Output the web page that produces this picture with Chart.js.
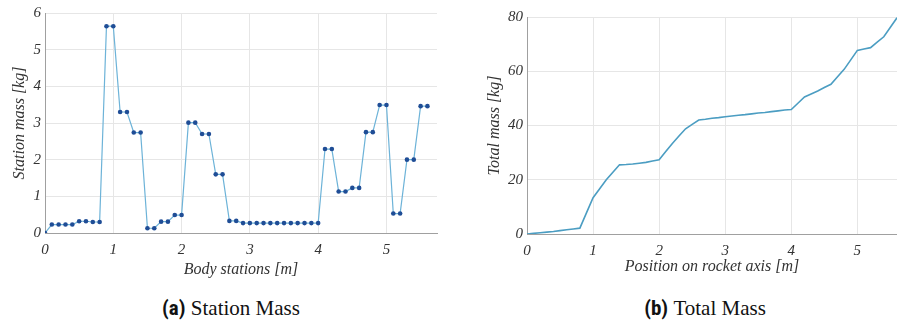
<!DOCTYPE html>
<html>
<head>
<meta charset="utf-8">
<script src="https://cdn.jsdelivr.net/npm/chart.js@4.4.1/dist/chart.umd.min.js"></script>
<style>
  body { margin: 0; background: #ffffff; width: 897px; height: 331px; overflow: hidden; position: relative; }
  canvas { position: absolute; top: 0; }
  #massChart { left: 0; }
  #totalChart { left: 447px; }
  .caption { position: absolute; top: 296px; font-size: 21px; color: #111; white-space: nowrap; transform: translateX(-50%); }
  .caption b { font-family: "Liberation Sans Narrow", "Roboto Condensed", "Liberation Sans", sans-serif; font-weight: bold; }
  .caption span { font-family: "Liberation Serif", "Times New Roman", "DejaVu Serif", serif; }
</style>
</head>
<body>
<canvas id="massChart" width="450" height="290"></canvas>
<canvas id="totalChart" width="450" height="290"></canvas>
<div class="caption" style="left:231px"><b>(a)</b> <span>Station Mass</span></div>
<div class="caption" style="left:705px"><b>(b)</b> <span>Total Mass</span></div>
<script>
// body stations along the rocket [m]
const stations = [0, 0.1, 0.2, 0.3, 0.4, 0.5, 0.6, 0.7, 0.8, 0.9, 1.0,
    1.1, 1.2, 1.3, 1.4, 1.5, 1.6, 1.7, 1.8, 1.9, 2.0,
    2.1, 2.2, 2.3, 2.4, 2.5, 2.6, 2.7, 2.8, 2.9, 3.0,
    3.1, 3.2, 3.3, 3.4, 3.5, 3.6, 3.7, 3.8, 3.9, 4.0,
    4.1, 4.2, 4.3, 4.4, 4.5, 4.6, 4.7, 4.8, 4.9, 5.0,
    5.1, 5.2, 5.3, 5.4, 5.5, 5.6];

// station mass [kg]
const stationMass = [0, 0.23, 0.23, 0.23, 0.23, 0.32, 0.32, 0.30, 0.30, 5.64, 5.64,
    3.30, 3.30, 2.74, 2.74, 0.13, 0.13, 0.31, 0.31, 0.49, 0.49,
    3.01, 3.01, 2.70, 2.70, 1.60, 1.60, 0.33, 0.33, 0.27, 0.27,
    0.27, 0.27, 0.27, 0.27, 0.27, 0.27, 0.27, 0.27, 0.27, 0.27,
    2.29, 2.29, 1.13, 1.13, 1.23, 1.23, 2.75, 2.75, 3.49, 3.49,
    0.53, 0.53, 2.00, 2.00, 3.46, 3.46];

// total mass along the rocket axis [kg]
const totalMass = [0, 0.23, 0.46, 0.69, 0.92, 1.24, 1.56, 1.86, 2.16, 7.8, 13.4,
    16.7, 20.0, 22.8, 25.5, 25.6, 25.8, 26.1, 26.4, 26.9, 27.4,
    30.4, 33.4, 36.1, 38.8, 40.4, 42.0, 42.3, 42.7, 42.9, 43.2,
    43.5, 43.8, 44.0, 44.3, 44.6, 44.8, 45.1, 45.4, 45.7, 45.9,
    48.2, 50.5, 51.6, 52.7, 54.0, 55.2, 58.0, 60.7, 64.2, 67.7,
    68.2, 68.7, 70.7, 72.7, 76.2, 79.7];

const xTicks = [0, 1, 2, 3, 4, 5];

const serif = '"Liberation Serif", "Times New Roman", "DejaVu Serif", serif';
const tickFont = { family: serif, style: 'italic', size: 15 };
const titleFont = { family: serif, style: 'italic', size: 16 };
const gridColor = '#e6e6e6';
const axisColor = '#a0a0a0';
const textColor = '#333333';

function makeChart(id, ys, opts) {
    const ctx = document.getElementById(id).getContext('2d');
    return new Chart(ctx, {
        type: 'scatter',
        data: {
            datasets: [{
                data: stations.map((x, i) => ({ x: x, y: ys[i] })),
                showLine: true,
                borderColor: opts.lineColor,
                borderWidth: opts.lineWidth,
                pointRadius: opts.pointRadius,
                pointBackgroundColor: '#1f4d96',
                pointBorderColor: '#1f4d96',
                pointBorderWidth: 0
            }]
        },
        options: {
            responsive: false,
            animation: false,
            layout: { padding: { top: opts.top, right: opts.right, left: 0, bottom: 0 } },
            plugins: { legend: { display: false }, tooltip: { enabled: false } },
            scales: {
                x: {
                    type: 'linear',
                    min: 0,
                    max: opts.xMax,
                    afterBuildTicks: s => { s.ticks = xTicks.map(v => ({ value: v })); },
                    afterFit: s => { s.height = 290 - opts.bottom; },
                    grid: { color: gridColor, drawTicks: false },
                    border: { color: axisColor },
                    ticks: { font: tickFont, color: textColor, padding: 8, maxRotation: 0 },
                    title: { display: true, text: opts.xTitle, font: titleFont, color: textColor,
                             padding: { top: 0, bottom: opts.xTitlePad } }
                },
                y: {
                    min: 0,
                    max: opts.yMax,
                    afterBuildTicks: s => { s.ticks = opts.yTicks.map(v => ({ value: v })); },
                    afterFit: s => { s.width = opts.left; },
                    grid: { color: gridColor, drawTicks: false },
                    border: { color: axisColor },
                    ticks: { font: tickFont, color: textColor, padding: 4 },
                    title: { display: true, text: opts.yTitle, font: titleFont, color: textColor,
                             padding: { top: opts.yTitlePad, bottom: 0 } }
                }
            }
        }
    });
}

makeChart('massChart', stationMass, {
    lineColor: '#6db3d8', lineWidth: 1.2, pointRadius: 2.3,
    left: 45, right: 13, top: 9, bottom: 233,
    xMax: 5.74, yMax: 6, yTicks: [0, 1, 2, 3, 4, 5, 6],
    xTitle: 'Body stations [m]', yTitle: 'Station mass [kg]',
    xTitlePad: 11, yTitlePad: 10
});

makeChart('totalChart', totalMass, {
    lineColor: '#4b9dc2', lineWidth: 1.6, pointRadius: 0,
    left: 80, right: 0, top: 17, bottom: 234,
    xMax: 5.6, yMax: 80, yTicks: [0, 20, 40, 60, 80],
    xTitle: 'Position on rocket axis [m]', yTitle: 'Total mass [kg]',
    xTitlePad: 14, yTitlePad: 38
});
</script>
</body>
</html>
